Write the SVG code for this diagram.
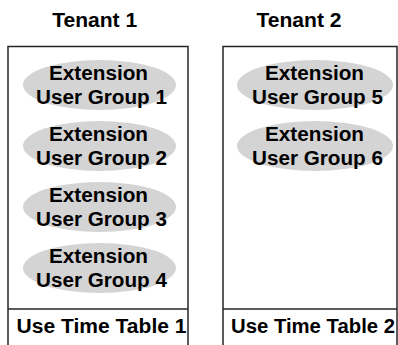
<svg xmlns="http://www.w3.org/2000/svg" width="398" height="345" viewBox="0 0 398 345">
<style>
.box{fill:#fff;stroke:#262626;stroke-width:1.5}
.grp{fill:#d4d4d4;stroke:none}
.t{font-family:"Liberation Sans",Arial,Helvetica,sans-serif;font-weight:bold;font-size:20px;fill:#000;text-anchor:middle}
</style>
<rect width="398" height="345" fill="#fff"/>
<g id="tenant1">
<text class="t" x="94.7" y="27" textLength="85" lengthAdjust="spacingAndGlyphs">Tenant 1</text>
<rect class="box" x="8" y="46.5" width="180" height="310"/>
<line class="box" x1="8" y1="309" x2="188" y2="309"/>
<text class="t" x="101.5" y="333" textLength="170" lengthAdjust="spacingAndGlyphs">Use Time Table 1</text>
</g>
<g id="tenant2">
<text class="t" x="299" y="27" textLength="85" lengthAdjust="spacingAndGlyphs">Tenant 2</text>
<rect class="box" x="223" y="46.5" width="174" height="310"/>
<line class="box" x1="223" y1="309" x2="397" y2="309"/>
<text class="t" x="313" y="333" textLength="164" lengthAdjust="spacingAndGlyphs">Use Time Table 2</text>
</g>
<g id="group1">
<ellipse class="grp" cx="99.5" cy="85" rx="76.5" ry="25"/>
<text class="t" x="98.5" y="80" textLength="99" lengthAdjust="spacingAndGlyphs">Extension</text>
<text class="t" x="101.5" y="103.5" textLength="131" lengthAdjust="spacingAndGlyphs">User Group 1</text>
</g>
<g id="group2">
<ellipse class="grp" cx="99.5" cy="146" rx="76.5" ry="25"/>
<text class="t" x="98.5" y="141" textLength="99" lengthAdjust="spacingAndGlyphs">Extension</text>
<text class="t" x="101.5" y="164.5" textLength="131" lengthAdjust="spacingAndGlyphs">User Group 2</text>
</g>
<g id="group3">
<ellipse class="grp" cx="99.5" cy="207" rx="76.5" ry="25"/>
<text class="t" x="98.5" y="202" textLength="99" lengthAdjust="spacingAndGlyphs">Extension</text>
<text class="t" x="101.5" y="225.5" textLength="131" lengthAdjust="spacingAndGlyphs">User Group 3</text>
</g>
<g id="group4">
<ellipse class="grp" cx="99.5" cy="268" rx="76.5" ry="25"/>
<text class="t" x="98.5" y="263" textLength="99" lengthAdjust="spacingAndGlyphs">Extension</text>
<text class="t" x="101.5" y="286.5" textLength="131" lengthAdjust="spacingAndGlyphs">User Group 4</text>
</g>
<g id="group5">
<ellipse class="grp" cx="315" cy="85" rx="78" ry="25"/>
<text class="t" x="314.5" y="80" textLength="99" lengthAdjust="spacingAndGlyphs">Extension</text>
<text class="t" x="317.5" y="103.5" textLength="131" lengthAdjust="spacingAndGlyphs">User Group 5</text>
</g>
<g id="group6">
<ellipse class="grp" cx="315" cy="146" rx="78" ry="25"/>
<text class="t" x="314.5" y="141" textLength="99" lengthAdjust="spacingAndGlyphs">Extension</text>
<text class="t" x="317.5" y="164.5" textLength="131" lengthAdjust="spacingAndGlyphs">User Group 6</text>
</g>
<g id="connectors"></g>
</svg>
